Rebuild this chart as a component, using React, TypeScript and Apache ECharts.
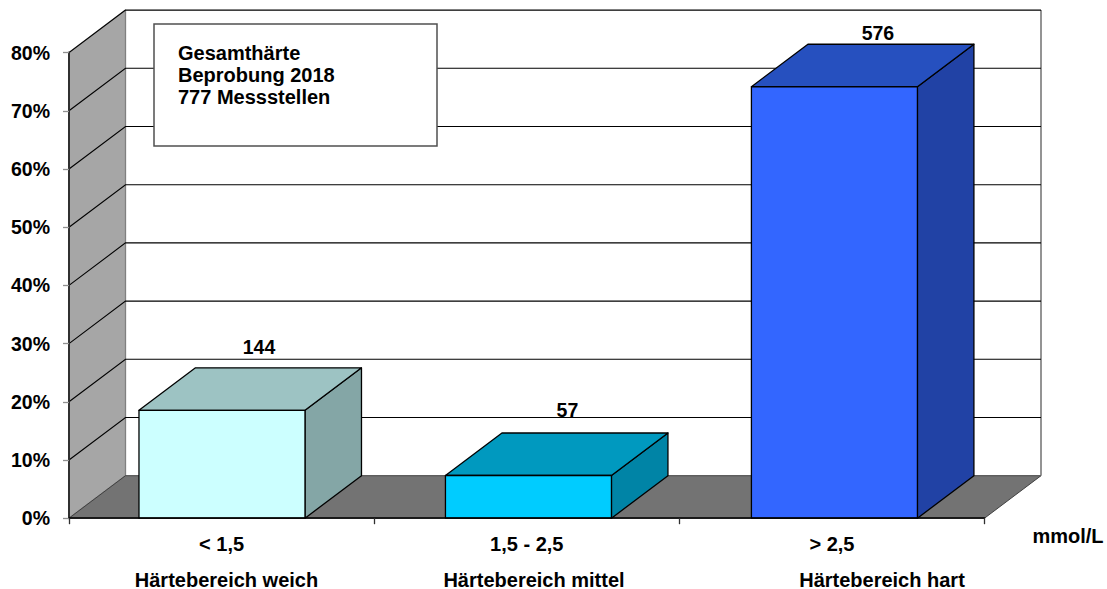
import React, { useEffect, useRef } from "react";
import * as echarts from "echarts";

const categories = ["< 1,5", "1,5 - 2,5", "> 2,5"];
const rangeNames = ["Härtebereich weich", "Härtebereich mittel", "Härtebereich hart"];
const siteCounts = [144, 57, 576];
const totalSites = 777;
const yTicks = [0, 10, 20, 30, 40, 50, 60, 70, 80];
const infoLines = ["Gesamthärte", "Beprobung 2018", "777 Messstellen"];
const unitLabel = "mmol/L";

const frontColors = ["#ccffff", "#00ccff", "#3366ff"];
const topColors = ["#9dc3c3", "#0099bf", "#2650bf"];
const sideColors = ["#84a6a6", "#0084a6", "#2142a5"];

const FONT = "'Liberation Sans', Arial, sans-serif";
const DEPTH_X = 56.5;
const DEPTH_Y = -42.5;
const BAR_WIDTH = 166;
const BAR_SHIFT = [0.4, 1.7, 2.5];
const LABEL_OFFSET: number[][] = [[37, -21], [39, -23], [43.5, -11]];
const RANGE_CENTERS = [226.5, 534, 882];

const percent = (count: number) => (count / totalSites) * 100;

const poly = (points: number[][], fill: string, stroke = "#000", lineWidth = 1.3) => ({
  type: "polygon",
  shape: { points },
  style: { fill, stroke, lineWidth, lineJoin: "round" },
});

function renderPanels(params: any, api: any) {
  const cs = params.coordSys;
  const left = cs.x;
  const right = cs.x + cs.width;
  const base = api.coord([0, 0])[1];
  const top = api.coord([0, 80])[1];
  return {
    type: "group",
    children: [
      // left wall
      poly(
        [[left, base], [left + DEPTH_X, base + DEPTH_Y], [left + DEPTH_X, top + DEPTH_Y], [left, top]],
        "#a6a6a6",
        "#808080",
        1.3
      ),
      // floor
      poly(
        [[left, base], [left + DEPTH_X, base + DEPTH_Y], [right + DEPTH_X, base + DEPTH_Y], [right, base]],
        "#737373",
        "#404040",
        1
      ),
      // right edge of the back wall
      {
        type: "polyline",
        shape: {
          points: [[right + DEPTH_X, base + DEPTH_Y], [right + DEPTH_X, top + DEPTH_Y]],
        },
        style: { stroke: "#707070", lineWidth: 1.5, fill: "none" },
      },
    ],
  };
}

function renderGridLine(params: any, api: any) {
  const cs = params.coordSys;
  const left = cs.x;
  const right = cs.x + cs.width;
  const y = api.coord([0, api.value(1)])[1];
  return {
    type: "polyline",
    shape: {
      points: [[left, y], [left + DEPTH_X, y + DEPTH_Y], [right + DEPTH_X, y + DEPTH_Y]],
    },
    style: { stroke: "#000", lineWidth: 1.1, fill: "none" },
  };
}

function renderBar(params: any, api: any) {
  const i = params.dataIndex;
  const base = api.coord([i, 0]);
  const head = api.coord([i, api.value(1)]);
  const cx = base[0] + BAR_SHIFT[i];
  const x0 = cx - BAR_WIDTH / 2;
  const x1 = cx + BAR_WIDTH / 2;
  const y0 = base[1];
  const y1 = head[1];
  return {
    type: "group",
    children: [
      poly([[x1, y0], [x1 + DEPTH_X, y0 + DEPTH_Y], [x1 + DEPTH_X, y1 + DEPTH_Y], [x1, y1]], sideColors[i]),
      poly([[x0, y1], [x0 + DEPTH_X, y1 + DEPTH_Y], [x1 + DEPTH_X, y1 + DEPTH_Y], [x1, y1]], topColors[i]),
      poly([[x0, y0], [x0, y1], [x1, y1], [x1, y0]], frontColors[i]),
      {
        type: "text",
        style: {
          text: String(siteCounts[i]),
          x: cx + LABEL_OFFSET[i][0],
          y: y1 + DEPTH_Y + LABEL_OFFSET[i][1],
          align: "center",
          verticalAlign: "middle",
          fill: "#000",
          font: `bold 19.5px ${FONT}`,
        },
      },
    ],
  };
}

export default function App() {
  const ref = useRef<HTMLDivElement>(null);

  useEffect(() => {
    const chart = echarts.init(ref.current!, null, { renderer: "svg" });
    const labelStyle = { color: "#000", fontFamily: FONT, fontWeight: "bold" as const };
    chart.setOption({
      animation: false,
      backgroundColor: "#fff",
      grid: { left: 69, top: 52.6, width: 915.5, height: 465.6 },
      xAxis: {
        type: "category",
        data: categories,
        z: 10,
        axisLine: { lineStyle: { color: "#000", width: 1.5 } },
        axisTick: { show: true, alignWithLabel: false, length: 6, lineStyle: { color: "#303030", width: 1.3 } },
        axisLabel: { ...labelStyle, fontSize: 20, margin: 16 },
        splitLine: { show: false },
      },
      yAxis: {
        type: "value",
        min: 0,
        max: 80,
        interval: 10,
        z: 10,
        axisLine: { show: true, lineStyle: { color: "#303030", width: 2 } },
        axisTick: { show: true, length: 6, lineStyle: { color: "#909090", width: 1.3 } },
        axisLabel: { ...labelStyle, fontSize: 19.5, margin: 19, formatter: "{value}%" },
        splitLine: { show: false },
      },
      graphic: [
        {
          type: "rect",
          z: 20,
          shape: { x: 154, y: 24, width: 283, height: 122 },
          style: { fill: "#fff", stroke: "#505050", lineWidth: 1.5 },
        },
        ...infoLines.map((line, i) => ({
          type: "text",
          z: 21,
          style: {
            text: line,
            x: 178,
            y: 53 + i * 22,
            align: "left",
            verticalAlign: "middle",
            fill: "#000",
            font: `bold 20px ${FONT}`,
          },
        })),
        ...rangeNames.map((name, i) => ({
          type: "text",
          z: 21,
          style: {
            text: name,
            x: RANGE_CENTERS[i],
            y: 579.5,
            align: "center",
            verticalAlign: "middle",
            lineHeight: 18,
            fill: "#000",
            font: `bold 20px ${FONT}`,
          },
        })),
        {
          type: "text",
          z: 21,
          style: {
            text: unitLabel,
            x: 1068,
            y: 536,
            align: "center",
            verticalAlign: "middle",
            fill: "#000",
            font: `bold 20px ${FONT}`,
          },
        },
      ],
      series: [
        { type: "custom", z: 1, silent: true, renderItem: renderPanels, data: [[0, 0]] },
        { type: "custom", z: 2, silent: true, renderItem: renderGridLine, data: yTicks.slice(1).map((t) => [0, t]) },
        {
          type: "custom",
          z: 3,
          silent: true,
          renderItem: renderBar,
          data: siteCounts.map((c, i) => [i, percent(c)]),
        },
      ],
    });
    return () => chart.dispose();
  }, []);

  return <div ref={ref} style={{ position: "absolute", left: 0, top: 0, width: 1107, height: 589 }} />;
}
